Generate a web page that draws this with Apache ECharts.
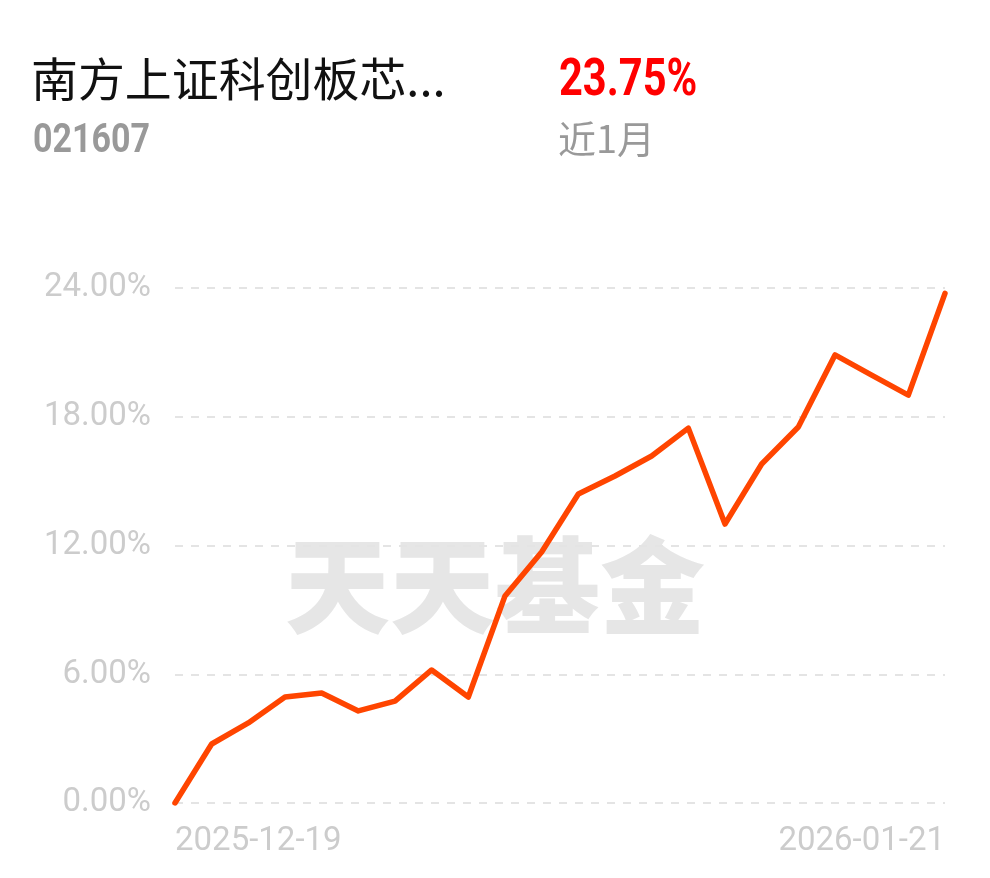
<!DOCTYPE html>
<html>
<head>
<meta charset="utf-8">
<script src="https://cdn.jsdelivr.net/npm/echarts@6/dist/echarts.min.js"></script>
<style>
  html, body { margin: 0; padding: 0; background: #fff; }
  #chart { width: 990px; height: 878px; }
</style>
</head>
<body>
<div id="chart"></div>
<script>
const fundName = '南方上证科创板芯...';
const fundCode = '021607';
const returnText = '23.75%';
const periodText = '近1月';

const dates = ['2025-12-19', '2025-12-22', '2025-12-23', '2025-12-24', '2025-12-25', '2025-12-26',
  '2025-12-29', '2025-12-30', '2025-12-31', '2026-01-05', '2026-01-06', '2026-01-07', '2026-01-08',
  '2026-01-09', '2026-01-12', '2026-01-13', '2026-01-14', '2026-01-15', '2026-01-16', '2026-01-19',
  '2026-01-20', '2026-01-21'];
const values = [0, 2.75, 3.73, 4.94, 5.13, 4.29, 4.75, 6.20, 4.94, 9.65, 11.70, 14.40, 15.24,
  16.17, 17.47, 13.00, 15.80, 17.52, 20.88, 19.94, 19.01, 23.75];

const chart = echarts.init(document.getElementById('chart'));
chart.setOption({
  animation: false,
  backgroundColor: '#fff',
  grid: { left: 175, right: 45, top: 288, bottom: 75 },
  graphic: [
    { type: 'text', x: 31, y: 56, scaleX: 1.02, z: 10,
      style: { text: fundName, font: '46px "Noto Sans CJK SC"', fill: '#111' } },
    { type: 'text', x: 33, y: 122, scaleX: 0.85, z: 10,
      style: { text: fundCode, font: 'bold 40px Roboto', fill: '#999' } },
    { type: 'text', x: 559, y: 56, scaleX: 0.8, z: 10,
      style: { text: returnText, font: 'bold 52px Roboto', fill: '#f00' } },
    { type: 'text', left: 558, top: 120, z: 10,
      style: { text: periodText, font: '38px "Noto Sans CJK SC"', fill: '#999' } },
    { type: 'text', left: 285, top: 533, z: -1,
      style: { text: '天天基金', font: '900 105px "Noto Sans CJK SC"', fill: '#e6e6e6' } }
  ],
  xAxis: {
    type: 'category',
    data: dates,
    boundaryGap: false,
    axisLine: { show: false },
    axisTick: { show: false },
    axisLabel: {
      color: '#ccc',
      fontSize: 33,
      fontFamily: 'Roboto',
      margin: 22,
      interval: 0,
      alignMinLabel: 'left',
      alignMaxLabel: 'right',
      formatter: (v, i) => (i === 0 || i === dates.length - 1) ? v : ''
    }
  },
  yAxis: {
    type: 'value',
    min: 0,
    max: 24,
    interval: 6,
    axisLine: { show: false },
    axisTick: { show: false },
    axisLabel: {
      color: '#ccc',
      fontSize: 33,
      fontFamily: 'Roboto',
      margin: 24,
      formatter: v => v.toFixed(2) + '%'
    },
    splitLine: { lineStyle: { color: '#e4e4e4', type: [8, 8], width: 2 } }
  },
  series: [{
    type: 'line',
    data: values,
    symbol: 'none',
    lineStyle: { color: '#ff4500', width: 5.5, join: 'round', cap: 'round' },
    z: 5
  }]
});
</script>
</body>
</html>
